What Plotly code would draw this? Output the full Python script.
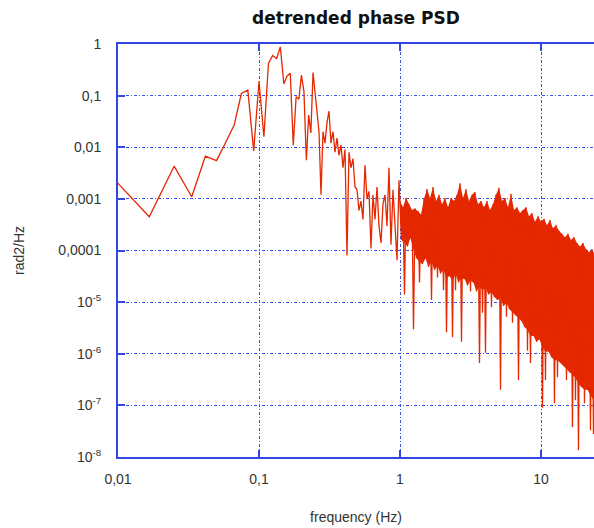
import plotly.graph_objects as go

# ---------------- data ----------------
# low-frequency bins (df = 1/120 Hz)
freq_low = [0.00833, 0.01667, 0.025, 0.03333, 0.04167, 0.05, 0.05833, 0.06667,
            0.075, 0.08333, 0.09167, 0.1, 0.10833, 0.11667, 0.125, 0.13333,
            0.14167, 0.15, 0.15833, 0.16667, 0.175, 0.18333, 0.19167, 0.2,
            0.20833, 0.21667, 0.225, 0.23333, 0.24167, 0.25]
psd_low = [0.0034, 4.5e-4, 4.3e-3, 1.1e-3, 6.7e-3, 5.5e-3, 0.0128, 0.027,
           0.11, 0.128, 0.0085, 0.19, 0.016, 0.42, 0.6, 0.52,
           0.88, 0.17, 0.24, 0.27, 0.011, 0.095, 0.085, 0.25,
           0.12, 0.0056, 0.042, 0.019, 0.28, 0.12]

# 0.25 - 1 Hz
freq_mid = [0.2578, 0.2664, 0.2753, 0.2843, 0.2938, 0.3035, 0.3136, 0.3241,
            0.3348, 0.3459, 0.3574, 0.3693, 0.3815, 0.3942, 0.4073, 0.4208,
            0.4348, 0.4492, 0.4642, 0.4796, 0.4955, 0.5119, 0.5289, 0.5465,
            0.5646, 0.5834, 0.6027, 0.6227, 0.6434, 0.6648, 0.6869, 0.7097,
            0.7332, 0.7576, 0.7827, 0.8087, 0.8356, 0.8633, 0.8919, 0.9216,
            0.9522, 0.9838]
psd_mid = [0.045, 0.02, 0.0012, 0.02, 0.012, 0.03, 0.05, 0.012,
           0.02, 0.008, 0.015, 0.007, 0.011, 0.004, 0.009, 8e-5,
           0.008, 0.004, 0.006, 0.0017, 0.0015, 6e-4, 9e-4, 4e-4,
           0.0045, 0.001, 0.0014, 1.1e-4, 0.0012, 4e-4, 0.0017, 3e-4,
           1.4e-4, 8e-4, 0.0012, 3e-4, 0.004, 1.3e-4, 0.0015, 3e-4,
           6.5e-5, 2.3e-3]

# 1 - 25 Hz (dense part): alternating peaks / dips
freq_high = [1.000, 1.025, 1.050, 1.076, 1.103, 1.130, 1.158, 1.187, 1.217, 1.247,
             1.278, 1.310, 1.342, 1.375, 1.410, 1.444, 1.480, 1.517, 1.555, 1.593,
             1.633, 1.673, 1.715, 1.757, 1.801, 1.845, 1.891, 1.938, 1.986, 2.035,
             2.086, 2.137, 2.190, 2.245, 2.300, 2.357, 2.416, 2.476, 2.537, 2.600,
             2.664, 2.730, 2.798, 2.867, 2.939, 3.011, 3.086, 3.163, 3.241, 3.321,
             3.403, 3.488, 3.574, 3.663, 3.754, 3.847, 3.942, 4.040, 4.140, 4.243,
             4.348, 4.455, 4.566, 4.679, 4.795, 4.914, 5.036, 5.161, 5.289, 5.420,
             5.554, 5.692, 5.833, 5.978, 6.126, 6.278, 6.433, 6.593, 6.756, 6.924,
             7.095, 7.271, 7.451, 7.637, 7.826, 8.020, 8.218, 8.423, 8.631, 8.846,
             9.065, 9.290, 9.520, 9.756, 9.999, 10.25, 10.50, 10.76, 11.03, 11.30,
             11.58, 11.87, 12.16, 12.46, 12.77, 13.09, 13.41, 13.75, 14.09, 14.44,
             14.79, 15.16, 15.54, 15.92, 16.32, 16.72, 17.14, 17.56, 18.00, 18.44,
             18.90, 19.37, 19.85, 20.34, 20.85, 21.36, 21.89, 22.44, 22.99, 23.56,
             24.15]
psd_high = [9.1e-4, 1.6e-4, 6.9e-4, 1.4e-5, 1.04e-3, 1.2e-4, 7.9e-4, 1.8e-4, 6.1e-4, 3.0e-6,
            6.5e-4, 7.1e-5, 5.8e-4, 2.4e-5, 5.0e-4, 5.5e-5, 1.0e-3, 7.1e-5, 1.55e-3, 4.8e-5,
            1.04e-3, 1.1e-5, 1.7e-3, 4.2e-5, 9.1e-4, 3.0e-5, 1.2e-3, 3.6e-5, 7.9e-4, 1.7e-5,
            1.04e-3, 2.6e-6, 6.9e-4, 3.2e-5, 1.04e-3, 2.1e-6, 9.1e-4, 1.7e-5, 1.2e-3, 2.4e-5,
            2.0e-3, 1.7e-6, 1.04e-3, 2.8e-5, 1.55e-3, 2.1e-5, 9.1e-4, 1.6e-5, 1.2e-3, 2.4e-5,
            1.36e-3, 1.6e-5, 7.9e-4, 6.6e-7, 9.1e-4, 6.2e-6, 6.9e-4, 1.05e-6, 9.1e-4, 1.4e-5,
            6.1e-4, 8.0e-6, 7.9e-4, 1.25e-5, 1.2e-3, 1.1e-5, 1.65e-3, 2.0e-7, 9.1e-4, 8.4e-6,
            1.04e-3, 5.2e-6, 6.9e-4, 7.3e-6, 1.25e-3, 4.0e-6, 6.1e-4, 5.6e-6, 6.9e-4, 3.1e-7,
            5.3e-4, 4.3e-6, 6.1e-4, 3.3e-6, 6.9e-4, 1.15e-6, 4.6e-4, 6.6e-7, 5.3e-4, 2.2e-6,
            3.6e-4, 1.7e-6, 4.6e-4, 1.9e-6, 3.6e-4, 9.0e-8, 4.1e-4, 3.1e-7, 3.1e-4, 1.1e-6,
            3.9e-4, 8.6e-7, 2.7e-4, 1.1e-7, 3.1e-4, 3.5e-7, 2.4e-4, 6.6e-7, 2.1e-4, 5.8e-7,
            1.8e-4, 3.1e-7, 2.1e-4, 4.4e-7, 1.6e-4, 3.8e-8, 1.8e-4, 1.26e-7, 1.4e-4, 1.35e-8,
            1.2e-4, 2.25e-7, 1.4e-4, 1.1e-7, 1.06e-4, 2.0e-7, 9.3e-5, 3.3e-8, 1.06e-4, 2.8e-8,
            8.1e-5]

# lower edge of the solid part of the dense band (at the dip frequencies)
floor_psd = [1.6e-4, 1.4e-4, 1.2e-4, 1.75e-4, 1.0e-4, 7.1e-5, 6.0e-5, 5.5e-5, 7.1e-5, 4.8e-5,
             6.0e-5, 4.2e-5, 5.0e-5, 3.6e-5, 4.2e-5, 2.9e-5, 3.2e-5, 2.6e-5, 3.5e-5, 2.4e-5,
             2.9e-5, 2.8e-5, 2.1e-5, 2.6e-5, 2.4e-5, 1.6e-5, 2.0e-5, 1.7e-5, 1.9e-5, 1.4e-5,
             1.55e-5, 1.25e-5, 1.1e-5, 1.2e-5, 8.4e-6, 9.6e-6, 7.3e-6, 6.4e-6, 5.6e-6, 4.9e-6,
             4.3e-6, 3.3e-6, 2.9e-6, 2.2e-6, 2.2e-6, 1.7e-6, 1.9e-6, 1.3e-6, 1.1e-6, 1.1e-6,
             8.6e-7, 7.5e-7, 7.5e-7, 6.6e-7, 5.8e-7, 5.0e-7, 4.4e-7, 3.9e-7, 3.4e-7, 2.6e-7,
             2.25e-7, 2.0e-7, 2.0e-7, 1.6e-7, 1.26e-7]

x_tickvals = [0.01, 0.1, 1, 10]
x_ticktext = ["0,01", "0,1", "1", "10"]
y_tickvals = [1e-8, 1e-7, 1e-6, 1e-5, 1e-4, 1e-3, 1e-2, 1e-1, 1]
y_ticktext = ["10<sup>-8</sup>", "10<sup>-7</sup>", "10<sup>-6</sup>", "10<sup>-5</sup>",
              "0,0001", "0,001", "0,01", "0,1", "1"]

title_text = "detrended phase PSD"
x_title = "frequency (Hz)"
y_title = "rad2/Hz"

# ---------------- figure ----------------
freq = freq_low + freq_mid + freq_high
psd = psd_low + psd_mid + psd_high

AX = "#3347e0"
GRID = "#3a50ea"
RED = "#e52800"

fig = go.Figure()
# solid body of the dense band: between the peaks and the band floor
fig.add_trace(go.Scatter(x=freq_high[0::2], y=psd_high[0::2], mode="lines",
                         line=dict(color=RED, width=0), hoverinfo="skip"))
fig.add_trace(go.Scatter(x=freq_high[1::2], y=floor_psd, mode="lines",
                         line=dict(color=RED, width=0), fill="tonexty",
                         fillcolor=RED, hoverinfo="skip"))
# the spectrum line itself
fig.add_trace(go.Scatter(x=freq, y=psd, mode="lines",
                         line=dict(color=RED, width=1.3), hoverinfo="skip"))

fig.update_layout(
    width=594, height=528,
    margin=dict(l=118, r=0, t=44, b=71),
    paper_bgcolor="white", plot_bgcolor="white",
    showlegend=False,
    font=dict(family="Liberation Sans, Arial, sans-serif", size=14, color="#333333"),
    title=dict(text="<b>" + title_text + "</b>", x=0.5, xref="paper",
               y=1 - 18 / 528, yref="container", yanchor="middle", xanchor="center",
               font=dict(family="DejaVu Sans, sans-serif", size=17, color="#111111")),
)

fig.update_xaxes(
    type="log", range=[-2, 1.3759],
    tickmode="array", tickvals=x_tickvals, ticktext=x_ticktext,
    showline=True, linecolor=AX, linewidth=2, mirror="ticks",
    ticks="inside", ticklen=7, tickwidth=1.5, tickcolor=AX,
    showgrid=True, gridcolor=GRID, gridwidth=1.2, griddash="3px,2px,1px,2px",
    ticklabelstandoff=8,
    title=dict(text=x_title, standoff=26, font=dict(size=14, color="#333333")),
    automargin=False,
)
fig.update_yaxes(
    type="log", range=[-8, 0],
    tickmode="array", tickvals=y_tickvals, ticktext=y_ticktext,
    showline=True, linecolor=AX, linewidth=2, mirror=False,
    ticks="inside", ticklen=7, tickwidth=1.5, tickcolor=AX,
    showgrid=True, gridcolor=GRID, gridwidth=1.2, griddash="3px,2px,1px,2px",
    ticklabelstandoff=12,
    title=dict(text=y_title, standoff=30, font=dict(size=14, color="#333333")),
    automargin=False,
)

fig.write_html("out.html")
